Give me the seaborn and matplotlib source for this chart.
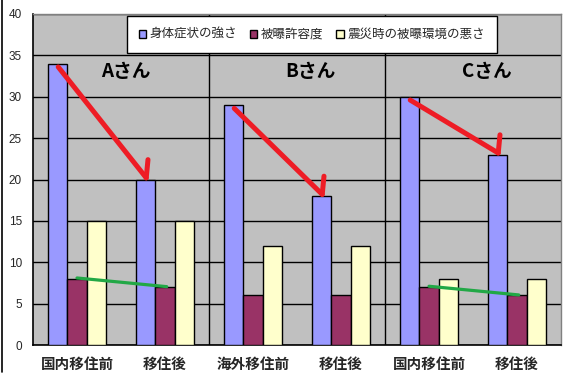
import matplotlib
matplotlib.use("Agg")
import matplotlib.pyplot as plt
from matplotlib.lines import Line2D
import pandas as pd
import seaborn as sns

# データ
personen = ['Aさん', 'Bさん', 'Cさん']
gruppen = ['A', 'A', 'B', 'B', 'C', 'C']
kategorien = ['国内移住前', '移住後', '海外移住前', '移住後', '国内移住前', '移住後']
serien = ['身体症状の強さ', '被曝許容度', '震災時の被曝環境の悪さ']
symptom = [34, 20, 29, 18, 30, 23]
toleranz = [8, 7, 6, 6, 7, 6]
umgebung = [15, 15, 12, 12, 8, 8]
gruene_linie = ['A', 'C']   # 被曝許容度の変化線を描くグループ

farben = ['#9999FF', '#993366', '#FFFFCC']

sns.set_style("white")
plt.rcParams['font.family'] = ['Noto Sans CJK JP', 'DejaVu Sans']

schluessel = [g + str(i) for i, g in enumerate(gruppen)]
df = pd.DataFrame({
    'key': schluessel * 3,
    'serie': [serien[0]] * 6 + [serien[1]] * 6 + [serien[2]] * 6,
    'wert': symptom + toleranz + umgebung,
})

fig = plt.figure(figsize=(5.75, 3.8), dpi=100)
ax = fig.add_axes([33 / 575, 35 / 380, 528 / 575, 331 / 380])
ax.set_facecolor('#C0C0C0')

breite = 0.67
sns.barplot(data=df, x='key', y='wert', hue='serie', order=schluessel,
            hue_order=serien, palette=farben, width=breite, gap=0,
            edgecolor='black', linewidth=1, saturation=1, ax=ax, zorder=3)

ax.set_xlim(-0.5, 5.5)
ax.set_ylim(0, 40)
ax.set_yticks(range(0, 41, 5))
ax.yaxis.grid(True, color='black', linewidth=1)
ax.set_axisbelow(True)
ax.set_xlabel('')
ax.set_ylabel('')
ax.set_xticks(range(6))
ax.set_xticklabels(kategorien, fontsize=10.5, fontweight='bold')
ax.set_xticks([i + 0.5 for i in range(5)], minor=True)
ax.tick_params(axis='x', which='major', length=0, pad=8)
ax.tick_params(axis='x', which='minor', length=3, direction='in', color='black')
ax.tick_params(axis='y', length=0, labelsize=8.5, pad=8)
for lbl in ax.get_yticklabels():
    lbl.set_family(['Liberation Sans', 'DejaVu Sans'])

for s in ['left', 'bottom']:
    ax.spines[s].set_color('black')
    ax.spines[s].set_linewidth(1.2)
for s in ['top', 'right']:
    ax.spines[s].set_color('#808080')
    ax.spines[s].set_linewidth(1)

# グループ区切り
for x in [1.5, 3.5]:
    ax.axvline(x, color='black', linewidth=1, zorder=2)

# 人物名
name_x = [0.56, 2.65, 4.66]
for x, name in zip(name_x, personen):
    ax.text(x, 33, name, ha='center', va='center', fontsize=13.5,
            fontweight='bold', color='black', zorder=6)

# 赤い矢印 (身体症状の強さ: 移住前 -> 移住後)
bw = breite / 3
for k in range(3):
    i0, i1 = 2 * k, 2 * k + 1
    x0, y0 = i0 - bw + 0.01, symptom[i0] - 0.4
    x1, y1 = i1 - bw + 0.01, symptom[i1] + 0.2
    ax.plot([x0, x1], [y0, y1], color='#EE1C25', linewidth=3.6,
            solid_capstyle='round', zorder=7)
    ax.plot([x1, x1 + 0.02], [y1, y1 + 2.2], color='#EE1C25', linewidth=3.6,
            solid_capstyle='round', zorder=7)

# 緑の線 (被曝許容度)
for k, g in enumerate(['A', 'B', 'C']):
    if g in gruene_linie:
        i0, i1 = 2 * k, 2 * k + 1
        ax.plot([i0, i1 + 0.02], [toleranz[i0] + 0.1, toleranz[i1] + 0.05],
                color='#22A846', linewidth=2.3, zorder=7)

leg = ax.legend(loc='center', bbox_to_anchor=(0.528, 0.938), ncol=3,
                fontsize=9, frameon=True, fancybox=False, framealpha=1,
                edgecolor='black', handlelength=0.6, handleheight=0.6,
                handletextpad=0.3, columnspacing=1.0, borderpad=0.95)
leg.get_frame().set_linewidth(1)
leg.set_zorder(8)
for h in leg.legend_handles:
    h.set_edgecolor('black')
    h.set_linewidth(1)

# 左端の枠線
fig.add_artist(Line2D([2 / 575, 2 / 575], [8 / 380, 1], color='black',
                      linewidth=1.2))

fig.savefig('out.png', dpi=100)
